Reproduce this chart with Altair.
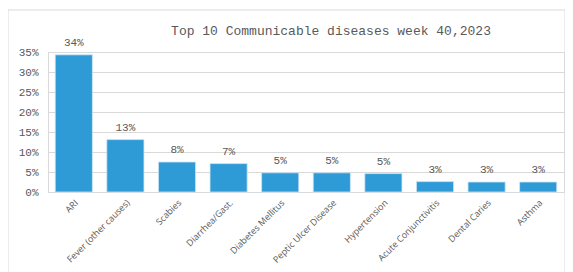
import altair as alt
import pandas as pd

diseases = ["ARI", "Fever (other causes)", "Scabies", "Diarrhea/Gast.", "Diabetes Mellitus",
            "Peptic Ulcer Disease", "Hypertension", "Acute Conjunctivitis", "Dental Caries", "Asthma"]
shares = [0.343, 0.131, 0.075, 0.071, 0.048, 0.048, 0.046, 0.026, 0.025, 0.025]
y_ticks = [0, 0.05, 0.10, 0.15, 0.20, 0.25, 0.30, 0.35]

df = pd.DataFrame({"disease": diseases, "share": shares})
frame_df = pd.DataFrame({"k": [0]})

mono = "Liberation Mono"
sans = "Open Sans"

base = alt.Chart(df)

y_axis = alt.Axis(values=y_ticks, format=".0%", labelFont=mono, labelFontSize=11,
                  labelColor="#595959", ticks=False, domain=False, labelPadding=10,
                  labelOverlap=False, tickCount=8,
                  gridColor="#d9d9d9", gridWidth=1)
y_scale = alt.Scale(domain=[0, 0.35], nice=False)

bars = base.mark_bar(color="#2E9BD6", stroke="#cfe6f5", strokeWidth=0.8).encode(
    x=alt.X("disease:N", sort=diseases, title=None,
            scale=alt.Scale(paddingInner=0.28, paddingOuter=0.14),
            axis=alt.Axis(labelAngle=-45, labelAlign="right", labelBaseline="top",
                          labelFont=sans, labelFontSize=9, labelColor="#595959",
                          ticks=False, domain=False, labelPadding=6, labelOverlap=False)),
    y=alt.Y("share:Q", title=None, scale=y_scale, axis=y_axis),
)

labels = base.mark_text(font=mono, fontSize=11, color="#595959", dy=-7, baseline="bottom").encode(
    x=alt.X("disease:N", sort=diseases),
    y=alt.Y("share:Q", scale=y_scale, axis=y_axis),
    text=alt.Text("share:Q", format=".0%"),
)

border = alt.Chart(frame_df).mark_rect(fill=None, stroke="#d9d9d9", strokeWidth=1).encode(
    x=alt.value(-40), x2=alt.value(517), y=alt.value(-42), y2=alt.value(230)
)

chart = alt.layer(border, bars, labels).properties(
    width=516, height=140,
    autosize=alt.AutoSizeParams(type="none"),
    padding={"left": 40, "top": 44, "right": 1, "bottom": 80},
    title=alt.TitleParams("Top 10 Communicable diseases week 40,2023", font=mono, fontSize=13,
                          fontWeight="normal", color="#595959", anchor="middle", dx=25,
                          offset=-28),
).configure_view(stroke="#d9d9d9", strokeWidth=1)

chart.save("out.html", embed_options={"renderer": "svg", "actions": False})
